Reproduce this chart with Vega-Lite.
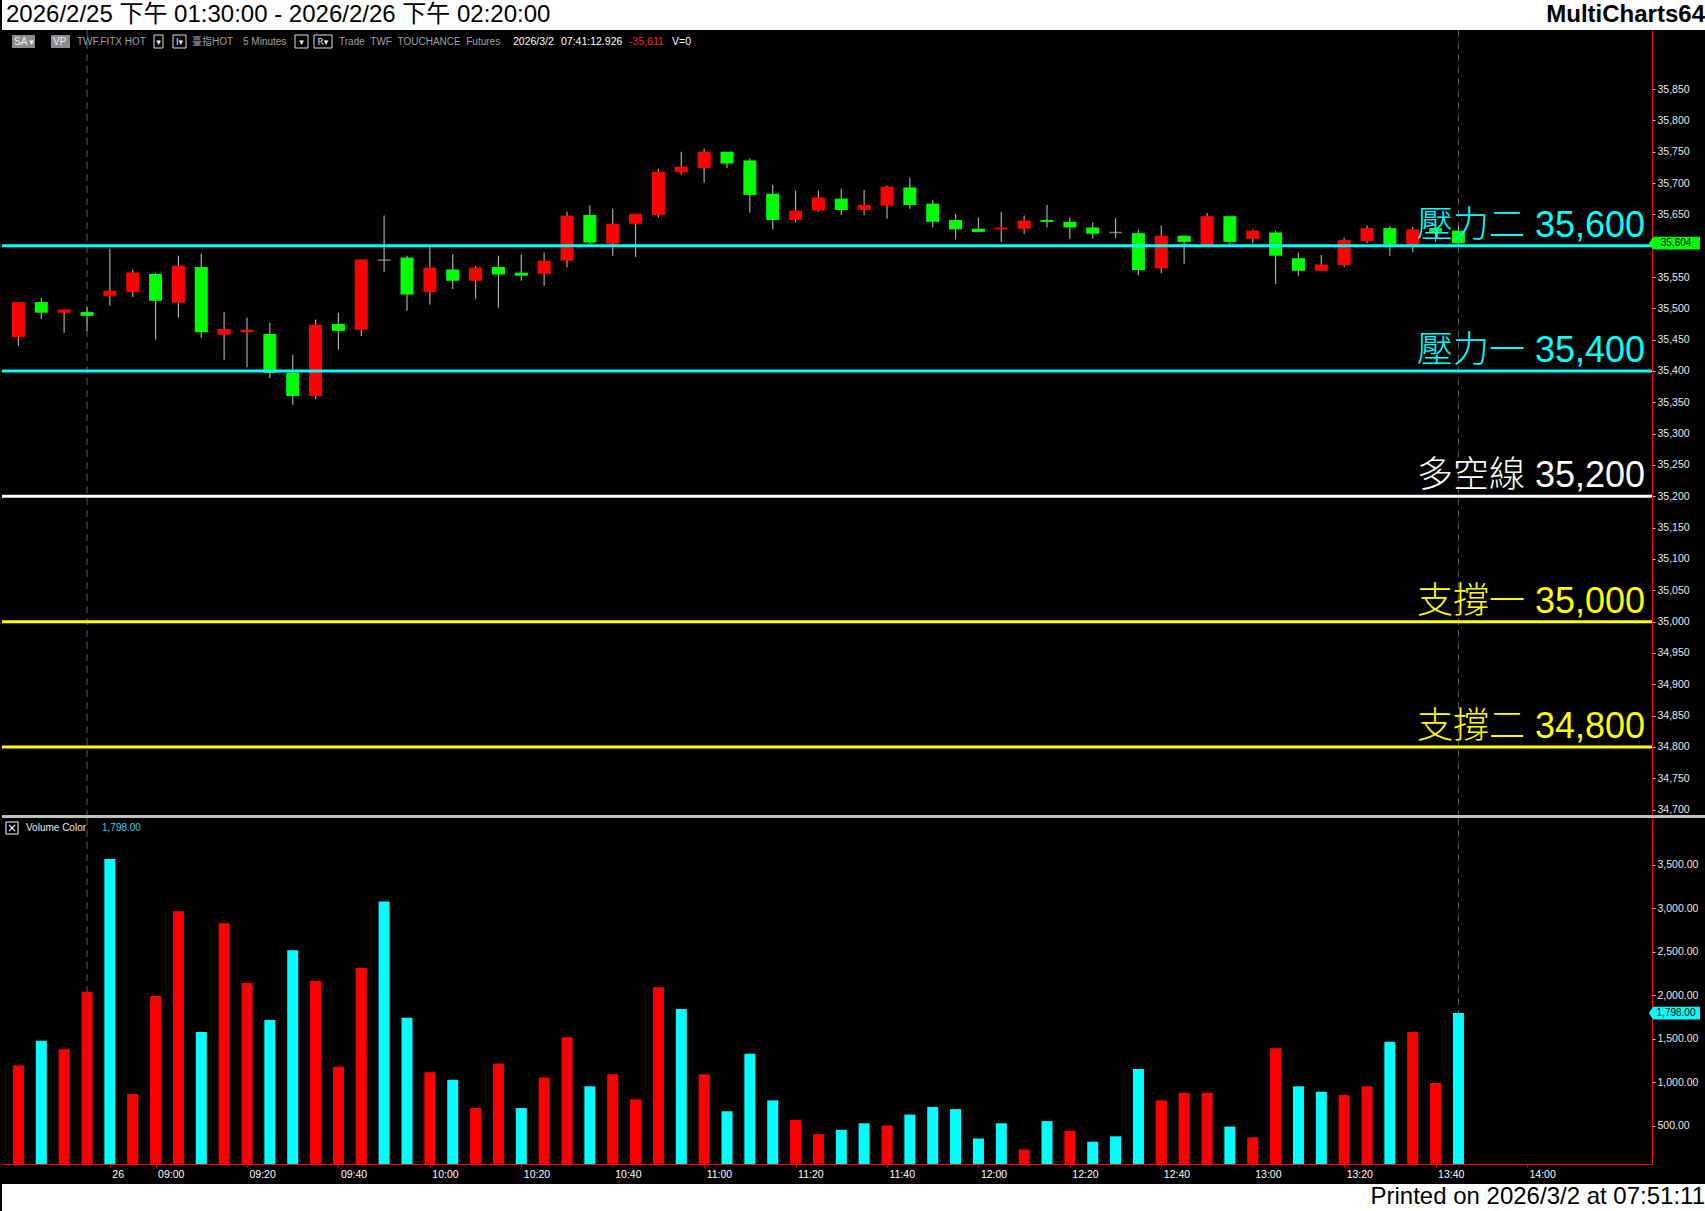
{
  "$schema": "https://vega.github.io/schema/vega-lite/v6.json",
  "background": "#000000",
  "padding": 0,
  "spacing": 0,
  "bounds": "flush",
  "resolve": {"scale": {"x": "independent", "color": "independent"}},
  "config": {
    "view": {"stroke": null},
    "axis": {"grid": false, "labelFont": "Liberation Sans"}
  },
  "datasets": {
    "candles": [
      {"i":0,"o":35454,"h":35510,"l":35440,"c":35510},
      {"i":1,"o":35510,"h":35517,"l":35483,"c":35493},
      {"i":2,"o":35493,"h":35498,"l":35461,"c":35498},
      {"i":3,"o":35494,"h":35502,"l":35464,"c":35488},
      {"i":4,"o":35520,"h":35595,"l":35504,"c":35528},
      {"i":5,"o":35526,"h":35562,"l":35518,"c":35557},
      {"i":6,"o":35555,"h":35557,"l":35450,"c":35512},
      {"i":7,"o":35509,"h":35584,"l":35485,"c":35568},
      {"i":8,"o":35566,"h":35587,"l":35453,"c":35462},
      {"i":9,"o":35458,"h":35494,"l":35418,"c":35467},
      {"i":10,"o":35462,"h":35485,"l":35406,"c":35466},
      {"i":11,"o":35459,"h":35477,"l":35389,"c":35397},
      {"i":12,"o":35397,"h":35426,"l":35346,"c":35360},
      {"i":13,"o":35360,"h":35482,"l":35355,"c":35474},
      {"i":14,"o":35475,"h":35493,"l":35434,"c":35464},
      {"i":15,"o":35466,"h":35578,"l":35456,"c":35578},
      {"i":16,"o":35577,"h":35648,"l":35558,"c":35577},
      {"i":17,"o":35581,"h":35584,"l":35496,"c":35522},
      {"i":18,"o":35526,"h":35598,"l":35506,"c":35565},
      {"i":19,"o":35562,"h":35586,"l":35531,"c":35544},
      {"i":20,"o":35544,"h":35568,"l":35515,"c":35565},
      {"i":21,"o":35566,"h":35584,"l":35501,"c":35554},
      {"i":22,"o":35557,"h":35586,"l":35544,"c":35552},
      {"i":23,"o":35555,"h":35589,"l":35536,"c":35576},
      {"i":24,"o":35576,"h":35654,"l":35565,"c":35648},
      {"i":25,"o":35649,"h":35664,"l":35602,"c":35605},
      {"i":26,"o":35603,"h":35659,"l":35584,"c":35635},
      {"i":27,"o":35635,"h":35651,"l":35582,"c":35651},
      {"i":28,"o":35649,"h":35723,"l":35645,"c":35718},
      {"i":29,"o":35717,"h":35750,"l":35713,"c":35726},
      {"i":30,"o":35724,"h":35755,"l":35701,"c":35750},
      {"i":31,"o":35750,"h":35750,"l":35724,"c":35731},
      {"i":32,"o":35736,"h":35739,"l":35653,"c":35681},
      {"i":33,"o":35683,"h":35697,"l":35626,"c":35641},
      {"i":34,"o":35641,"h":35688,"l":35637,"c":35656},
      {"i":35,"o":35656,"h":35688,"l":35654,"c":35677},
      {"i":36,"o":35675,"h":35691,"l":35649,"c":35657},
      {"i":37,"o":35657,"h":35689,"l":35649,"c":35665},
      {"i":38,"o":35664,"h":35696,"l":35643,"c":35694},
      {"i":39,"o":35693,"h":35709,"l":35659,"c":35665},
      {"i":40,"o":35667,"h":35673,"l":35629,"c":35638},
      {"i":41,"o":35641,"h":35651,"l":35610,"c":35626},
      {"i":42,"o":35627,"h":35645,"l":35622,"c":35622},
      {"i":43,"o":35626,"h":35654,"l":35606,"c":35629},
      {"i":44,"o":35627,"h":35648,"l":35619,"c":35640},
      {"i":45,"o":35641,"h":35665,"l":35629,"c":35638},
      {"i":46,"o":35638,"h":35645,"l":35611,"c":35629},
      {"i":47,"o":35629,"h":35637,"l":35611,"c":35619},
      {"i":48,"o":35621,"h":35644,"l":35612,"c":35621},
      {"i":49,"o":35620,"h":35626,"l":35553,"c":35561},
      {"i":50,"o":35564,"h":35632,"l":35556,"c":35616},
      {"i":51,"o":35616,"h":35616,"l":35571,"c":35606},
      {"i":52,"o":35601,"h":35652,"l":35601,"c":35647},
      {"i":53,"o":35647,"h":35647,"l":35602,"c":35606},
      {"i":54,"o":35611,"h":35626,"l":35604,"c":35624},
      {"i":55,"o":35621,"h":35624,"l":35539,"c":35584},
      {"i":56,"o":35580,"h":35589,"l":35552,"c":35560},
      {"i":57,"o":35560,"h":35585,"l":35560,"c":35570},
      {"i":58,"o":35569,"h":35613,"l":35566,"c":35609},
      {"i":59,"o":35607,"h":35632,"l":35604,"c":35628},
      {"i":60,"o":35628,"h":35631,"l":35584,"c":35602},
      {"i":61,"o":35602,"h":35630,"l":35590,"c":35626},
      {"i":62,"o":35628,"h":35631,"l":35606,"c":35622},
      {"i":63,"o":35624,"h":35631,"l":35598,"c":35604}
    ],
    "vol": [
      {"i":0,"v":1194,"vc":"up"},{"i":1,"v":1481,"vc":"dn"},{"i":2,"v":1381,"vc":"up"},{"i":3,"v":2044,"vc":"up"},
      {"i":4,"v":3569,"vc":"dn"},{"i":5,"v":869,"vc":"up"},{"i":6,"v":1994,"vc":"up"},{"i":7,"v":2969,"vc":"up"},
      {"i":8,"v":1581,"vc":"dn"},{"i":9,"v":2831,"vc":"up"},{"i":10,"v":2144,"vc":"up"},{"i":11,"v":1719,"vc":"dn"},
      {"i":12,"v":2519,"vc":"dn"},{"i":13,"v":2169,"vc":"up"},{"i":14,"v":1181,"vc":"up"},{"i":15,"v":2319,"vc":"up"},
      {"i":16,"v":3081,"vc":"dn"},{"i":17,"v":1744,"vc":"dn"},{"i":18,"v":1119,"vc":"up"},{"i":19,"v":1031,"vc":"dn"},
      {"i":20,"v":706,"vc":"up"},{"i":21,"v":1219,"vc":"up"},{"i":22,"v":706,"vc":"dn"},{"i":23,"v":1056,"vc":"up"},
      {"i":24,"v":1519,"vc":"up"},{"i":25,"v":956,"vc":"dn"},{"i":26,"v":1094,"vc":"up"},{"i":27,"v":806,"vc":"up"},
      {"i":28,"v":2094,"vc":"up"},{"i":29,"v":1844,"vc":"dn"},{"i":30,"v":1094,"vc":"up"},{"i":31,"v":669,"vc":"dn"},
      {"i":32,"v":1331,"vc":"dn"},{"i":33,"v":794,"vc":"dn"},{"i":34,"v":569,"vc":"up"},{"i":35,"v":406,"vc":"up"},
      {"i":36,"v":456,"vc":"dn"},{"i":37,"v":531,"vc":"dn"},{"i":38,"v":506,"vc":"up"},{"i":39,"v":631,"vc":"dn"},
      {"i":40,"v":719,"vc":"dn"},{"i":41,"v":694,"vc":"dn"},{"i":42,"v":356,"vc":"dn"},{"i":43,"v":531,"vc":"dn"},
      {"i":44,"v":231,"vc":"up"},{"i":45,"v":556,"vc":"dn"},{"i":46,"v":444,"vc":"up"},{"i":47,"v":319,"vc":"dn"},
      {"i":48,"v":381,"vc":"dn"},{"i":49,"v":1156,"vc":"dn"},{"i":50,"v":794,"vc":"up"},{"i":51,"v":881,"vc":"up"},
      {"i":52,"v":881,"vc":"up"},{"i":53,"v":494,"vc":"dn"},{"i":54,"v":369,"vc":"up"},{"i":55,"v":1394,"vc":"up"},
      {"i":56,"v":956,"vc":"dn"},{"i":57,"v":894,"vc":"dn"},{"i":58,"v":856,"vc":"up"},{"i":59,"v":956,"vc":"up"},
      {"i":60,"v":1469,"vc":"dn"},{"i":61,"v":1581,"vc":"up"},{"i":62,"v":994,"vc":"up"},{"i":63,"v":1798,"vc":"dn"}
    ],
    "levels": [
      {"level":35600,"kind":"壓力","label":"壓力二 35,600"},
      {"level":35400,"kind":"壓力","label":"壓力一 35,400"},
      {"level":35200,"kind":"多空","label":"多空線 35,200"},
      {"level":35000,"kind":"支撐","label":"支撐一 35,000"},
      {"level":34800,"kind":"支撐","label":"支撐二 34,800"}
    ],
    "seps": [{"i":3},{"i":63}],
    "lastPrice": [{"p":35604,"t":"35,604"}],
    "lastVol": [{"v":1798,"t":"1,798.00"}],
    "one": [{}]
  },
  "vconcat": [
    {
      "width": 1705, "height": 30,
      "view": {"fill": "#ffffff", "stroke": null},
      "data": {"name": "one"},
      "layer": [
        {"mark": {"type": "text", "text": "2026/2/25 下午 01:30:00 - 2026/2/26 下午 02:20:00", "y": 15, "dx": 4, "align": "left", "baseline": "middle", "fontSize": 24, "font": "Liberation Sans, Noto Sans CJK TC", "color": "#000000"},
         "encoding": {"x": {"datum": 0, "type": "quantitative", "scale": {"domain": [0, 1], "nice": false, "zero": false}, "axis": null}}},
        {"mark": {"type": "text", "text": "MultiCharts64", "y": 15, "dx": -2, "align": "right", "baseline": "middle", "fontSize": 24, "fontWeight": "bold", "font": "Liberation Sans", "color": "#000000"},
         "encoding": {"x": {"datum": 1, "type": "quantitative", "axis": null}}}
      ]
    },
    {
      "width": 1650, "height": 785,
      "resolve": {"axis": {"x": "independent", "y": "independent"}},
      "layer": [
        {"data": {"name": "seps"}, "mark": {"type": "rule", "color": "#5a5a5a", "strokeDash": [7, 5], "strokeWidth": 1},
         "encoding": {"x": {"field": "i", "type": "quantitative", "scale": {"domain": [-0.5, 71.25], "nice": false, "zero": false}, "axis": null}}},
        {"data": {"name": "candles"}, "mark": {"type": "rule", "color": "#a8a8a8", "strokeWidth": 1.2},
         "encoding": {
           "x": {"field": "i", "type": "quantitative", "axis": null},
           "y": {"field": "l", "type": "quantitative", "scale": {"domain": [34691.4, 35944.2], "nice": false, "zero": false},
                 "axis": {"orient": "right", "values": [34700,34750,34800,34850,34900,34950,35000,35050,35100,35150,35200,35250,35300,35350,35400,35450,35500,35550,35600,35650,35700,35750,35800,35850],
                          "format": ",d", "domainColor": "#ff0000", "domainWidth": 1, "tickColor": "#d0d0d0", "tickSize": 3, "labelColor": "#e8e8e8", "labelFontSize": 10.5, "labelPadding": 2, "labelFlush": false, "labelOverlap": false, "title": null}},
           "y2": {"field": "h"}}},
        {"data": {"name": "candles"}, "mark": {"type": "bar", "orient": "vertical", "size": 13},
         "encoding": {
           "x": {"field": "i", "type": "quantitative", "axis": null},
           "y": {"field": "o", "type": "quantitative", "axis": null},
           "y2": {"field": "c"},
           "color": {"condition": {"test": "datum.c > datum.o", "value": "#ff0000"}, "value": "#00ff00"}}},
        {"data": {"name": "candles"}, "transform": [{"filter": "datum.o == datum.c"}],
         "mark": {"type": "tick", "orient": "horizontal", "size": 13, "thickness": 1.5, "color": "#a8a8a8"},
         "encoding": {
           "x": {"field": "i", "type": "quantitative", "axis": null},
           "y": {"field": "o", "type": "quantitative", "axis": null}}},
        {"data": {"name": "levels"}, "mark": {"type": "rule", "strokeWidth": 3},
         "encoding": {
           "y": {"field": "level", "type": "quantitative", "axis": null},
           "color": {"condition": [{"test": "datum.kind == '壓力'", "value": "#00ffff"}, {"test": "datum.kind == '多空'", "value": "#ffffff"}], "value": "#ffff00"}}},
        {"data": {"name": "levels"}, "mark": {"type": "text", "dx": -2, "align": "right", "baseline": "alphabetic", "dy": -9, "fontSize": 36, "fontWeight": 300, "font": "Liberation Sans, Noto Sans CJK TC"},
         "encoding": {
           "x": {"datum": 71.25, "type": "quantitative", "axis": null},
           "y": {"field": "level", "type": "quantitative", "axis": null},
           "text": {"field": "label"},
           "color": {"condition": [{"test": "datum.kind == '壓力'", "value": "#00ffff"}, {"test": "datum.kind == '多空'", "value": "#ffffff"}], "value": "#ffff00"}}},
        {"data": {"name": "lastPrice"}, "mark": {"type": "point", "shape": "M-1,0L-0.84,-0.25L1,-0.25L1,0.25L-0.84,0.25Z", "size": 2601, "filled": true, "color": "#00ff00", "opacity": 1, "strokeWidth": 0},
         "encoding": {"x": {"datum": 72.45, "type": "quantitative", "axis": null}, "y": {"field": "p", "type": "quantitative", "axis": null}}},
        {"data": {"name": "lastPrice"}, "mark": {"type": "text", "align": "center", "baseline": "middle", "fontSize": 10, "font": "Liberation Sans", "color": "#000000"},
         "encoding": {"x": {"datum": 72.52, "type": "quantitative", "axis": null}, "y": {"field": "p", "type": "quantitative", "axis": null}, "text": {"field": "t"}}},
        {"data": {"name": "one"}, "mark": {"type": "rect", "x": 10, "x2": 33, "y": 5, "y2": 18, "fill": "#8c8c8c"}},
        {"data": {"name": "one"}, "mark": {"type": "text", "text": "SA", "x": 12, "y": 12, "align": "left", "baseline": "middle", "fontSize": 10, "font": "Liberation Sans", "color": "#f0f0f0"}},
        {"data": {"name": "one"}, "mark": {"type": "text", "text": "▾", "x": 29.5, "y": 12, "align": "center", "baseline": "middle", "fontSize": 9, "font": "DejaVu Sans", "color": "#f0f0f0"}},
        {"data": {"name": "one"}, "mark": {"type": "rect", "x": 49, "x2": 68, "y": 5, "y2": 18, "fill": "#8c8c8c"}},
        {"data": {"name": "one"}, "mark": {"type": "text", "text": "VP", "x": 51, "y": 12, "align": "left", "baseline": "middle", "fontSize": 10, "font": "Liberation Sans", "color": "#f0f0f0"}},
        {"data": {"name": "one"}, "mark": {"type": "text", "text": "TWF.FITX HOT", "x": 75, "y": 12, "align": "left", "baseline": "middle", "fontSize": 10, "font": "Liberation Sans", "color": "#a0a0a0"}},
        {"data": {"name": "one"}, "mark": {"type": "rect", "x": 152, "x2": 161, "y": 5, "y2": 18, "fill": "#000000", "stroke": "#e0e0e0", "strokeWidth": 1}},
        {"data": {"name": "one"}, "mark": {"type": "text", "text": "▾", "x": 156.5, "y": 12, "align": "center", "baseline": "middle", "fontSize": 9, "font": "DejaVu Sans", "color": "#f0f0f0"}},
        {"data": {"name": "one"}, "mark": {"type": "rect", "x": 171, "x2": 184, "y": 5, "y2": 18, "fill": "#000000", "stroke": "#e0e0e0", "strokeWidth": 1}},
        {"data": {"name": "one"}, "mark": {"type": "text", "text": "I▾", "x": 177.5, "y": 12, "align": "center", "baseline": "middle", "fontSize": 9, "font": "DejaVu Sans", "color": "#f0f0f0"}},
        {"data": {"name": "one"}, "mark": {"type": "text", "text": "臺指HOT", "x": 190, "y": 12, "align": "left", "baseline": "middle", "fontSize": 10, "font": "Liberation Sans, Noto Sans CJK TC", "color": "#a0a0a0"}},
        {"data": {"name": "one"}, "mark": {"type": "text", "text": "5 Minutes", "x": 241, "y": 12, "align": "left", "baseline": "middle", "fontSize": 10, "font": "Liberation Sans", "color": "#a0a0a0"}},
        {"data": {"name": "one"}, "mark": {"type": "rect", "x": 293, "x2": 306, "y": 5, "y2": 18, "fill": "#000000", "stroke": "#e0e0e0", "strokeWidth": 1}},
        {"data": {"name": "one"}, "mark": {"type": "text", "text": "▾", "x": 299.5, "y": 12, "align": "center", "baseline": "middle", "fontSize": 9, "font": "DejaVu Sans", "color": "#f0f0f0"}},
        {"data": {"name": "one"}, "mark": {"type": "rect", "x": 312, "x2": 330, "y": 5, "y2": 18, "fill": "#000000", "stroke": "#e0e0e0", "strokeWidth": 1}},
        {"data": {"name": "one"}, "mark": {"type": "text", "text": "R▾", "x": 321, "y": 12, "align": "center", "baseline": "middle", "fontSize": 9, "font": "DejaVu Sans", "color": "#f0f0f0"}},
        {"data": {"name": "one"}, "mark": {"type": "text", "text": "Trade\u00a0\u00a0TWF\u00a0\u00a0TOUCHANCE\u00a0\u00a0Futures", "x": 337, "y": 12, "align": "left", "baseline": "middle", "fontSize": 10, "font": "Liberation Sans", "color": "#a0a0a0"}},
        {"data": {"name": "one"}, "mark": {"type": "text", "text": "2026/3/2", "x": 511, "y": 12, "align": "left", "baseline": "middle", "fontSize": 10.5, "font": "Liberation Sans", "color": "#ffffff"}},
        {"data": {"name": "one"}, "mark": {"type": "text", "text": "07:41:12.926", "x": 559, "y": 12, "align": "left", "baseline": "middle", "fontSize": 10.5, "font": "Liberation Sans", "color": "#ffffff"}},
        {"data": {"name": "one"}, "mark": {"type": "text", "text": "-35,611", "x": 627, "y": 12, "align": "left", "baseline": "middle", "fontSize": 10.5, "font": "Liberation Sans", "color": "#ff2020"}},
        {"data": {"name": "one"}, "mark": {"type": "text", "text": "V=0", "x": 670, "y": 12, "align": "left", "baseline": "middle", "fontSize": 10.5, "font": "Liberation Sans", "color": "#ffffff"}}
      ]
    },
    {
      "width": 1705, "height": 3,
      "view": {"fill": "#c0c0c0", "stroke": null},
      "data": {"name": "one"},
      "mark": {"type": "text", "text": ""}
    },
    {
      "width": 1650, "height": 346,
      "resolve": {"axis": {"x": "independent", "y": "independent"}},
      "layer": [
        {"data": {"name": "seps"}, "mark": {"type": "rule", "color": "#5a5a5a", "strokeDash": [7, 5], "strokeWidth": 1},
         "encoding": {"x": {"field": "i", "type": "quantitative", "scale": {"domain": [-0.5, 71.25], "nice": false, "zero": false}, "axis": null}}},
        {"data": {"name": "vol"}, "mark": {"type": "bar", "orient": "vertical", "size": 11, "clip": true},
         "encoding": {
           "x": {"field": "i", "type": "quantitative",
                 "axis": {"orient": "bottom", "values": [4,6,10,14,18,22,26,30,34,38,42,46,50,54,58,62,66],
                          "labelExpr": "datum.value == 4 ? '26' : (floor((510 + datum.value * 5) / 60) < 10 ? '0' : '') + floor((510 + datum.value * 5) / 60) + ':' + ((510 + datum.value * 5) % 60 < 10 ? '0' : '') + ((510 + datum.value * 5) % 60)",
                          "domainColor": "#ff0000", "tickColor": "#ff0000", "tickSize": 3, "labelColor": "#ffffff", "labelFontSize": 10.5, "labelAlign": "left", "labelOffset": 2, "labelPadding": 2, "labelFlush": false, "labelOverlap": false, "title": null}},
           "y": {"field": "v", "type": "quantitative", "stack": null, "scale": {"domain": [63, 4040], "nice": false, "zero": false},
                 "axis": {"orient": "right", "values": [500, 1000, 1500, 2000, 2500, 3000, 3500], "format": ",.2f", "domainColor": "#ff0000", "tickColor": "#d0d0d0", "tickSize": 3, "labelColor": "#e8e8e8", "labelFontSize": 10.5, "labelPadding": 2, "labelFlush": false, "labelOverlap": false, "title": null}},
           "color": {"condition": {"test": "datum.vc == 'up'", "value": "#ff0000"}, "value": "#00ffff"}}},
        {"data": {"name": "lastVol"}, "mark": {"type": "point", "shape": "M-1,0L-0.84,-0.25L1,-0.25L1,0.25L-0.84,0.25Z", "size": 2601, "filled": true, "color": "#00ffff", "opacity": 1, "strokeWidth": 0},
         "encoding": {"x": {"datum": 72.45, "type": "quantitative", "axis": null}, "y": {"field": "v", "type": "quantitative", "axis": null}}},
        {"data": {"name": "lastVol"}, "mark": {"type": "text", "align": "center", "baseline": "middle", "fontSize": 10, "font": "Liberation Sans", "color": "#000000"},
         "encoding": {"x": {"datum": 72.52, "type": "quantitative", "axis": null}, "y": {"field": "v", "type": "quantitative", "axis": null}, "text": {"field": "t"}}},
        {"data": {"name": "one"}, "mark": {"type": "rect", "x": 4, "x2": 16, "y": 4, "y2": 16, "fill": "#000000", "stroke": "#ffffff", "strokeWidth": 1}},
        {"data": {"name": "one"}, "mark": {"type": "text", "text": "×", "x": 10, "y": 10, "align": "center", "baseline": "middle", "fontSize": 12, "font": "DejaVu Sans", "color": "#ffffff"}},
        {"data": {"name": "one"}, "mark": {"type": "text", "text": "Volume Color", "x": 24, "y": 10, "align": "left", "baseline": "middle", "fontSize": 10, "font": "Liberation Sans", "color": "#e8e8e8"}},
        {"data": {"name": "one"}, "mark": {"type": "text", "text": "1,798.00", "x": 100, "y": 10, "align": "left", "baseline": "middle", "fontSize": 10, "font": "Liberation Sans", "color": "#33ccee"}}
      ]
    },
    {
      "width": 1650, "height": 20,
      "data": {"name": "one"},
      "mark": {"type": "text", "text": ""}
    },
    {
      "width": 1705, "height": 27,
      "view": {"fill": "#ffffff", "stroke": null},
      "data": {"name": "one"},
      "mark": {"type": "text", "text": "Printed on 2026/3/2 at 07:51:11", "y": 13, "dx": -2, "align": "right", "baseline": "middle", "fontSize": 24, "font": "Liberation Sans", "color": "#000000"},
      "encoding": {"x": {"datum": 1, "type": "quantitative", "scale": {"domain": [0, 1], "nice": false, "zero": false}, "axis": null}}
    }
  ]
}
